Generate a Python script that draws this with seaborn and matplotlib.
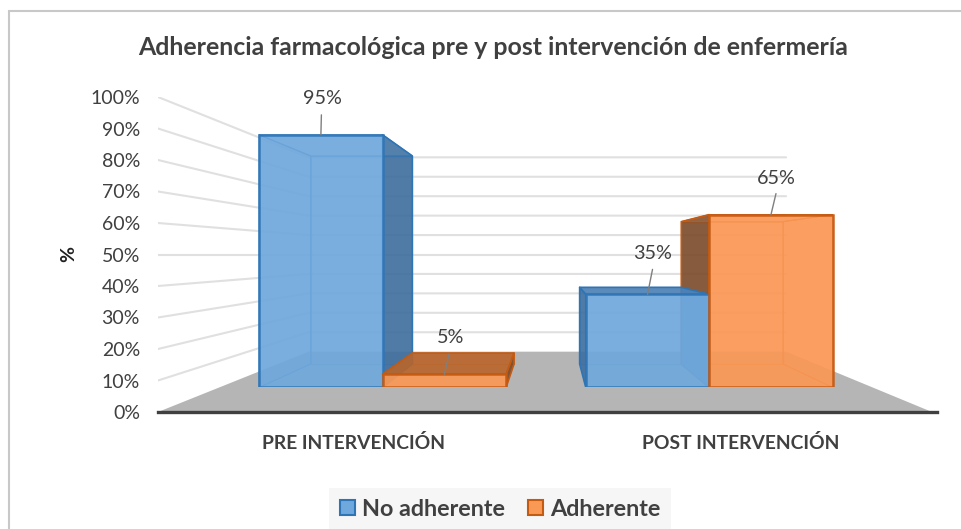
import numpy as np
import pandas as pd
import matplotlib
matplotlib.use("Agg")
import matplotlib.pyplot as plt
from matplotlib.colors import to_rgba
from matplotlib.patches import Polygon, Patch, Rectangle
import seaborn as sns

categories = ["PRE INTERVENCIÓN", "POST INTERVENCIÓN"]
no_adherente = [95, 35]
adherente = [5, 65]
series_names = ["No adherente", "Adherente"]
y_ticks = list(range(0, 101, 10))

W, H = 962, 529
sns.set_theme(style="white")
plt.rcParams["font.family"] = ["Lato", "DejaVu Sans"]
TXT = "#404040"
FILL = {"No adherente": "#6FA8DC", "Adherente": "#FA9855"}
EDGE = {"No adherente": "#2E75B6", "Adherente": "#C55A11"}
DARK = {"No adherente": "#3F6E9E", "Adherente": "#7A4A2A"}
TOPC = {"No adherente": "#4B80B5", "Adherente": "#B9652B"}

df = pd.DataFrame({
    "Momento": categories * 2,
    "Grupo": [series_names[0]] * 2 + [series_names[1]] * 2,
    "Porcentaje": no_adherente + adherente,
})

fig = plt.figure(figsize=(W / 100, H / 100), dpi=100, facecolor="white")

def axes_px(x0, x1, ytop, ybot, **kw):
    return fig.add_axes([x0 / W, 1 - ybot / H, (x1 - x0) / W, (ybot - ytop) / H], **kw)

# perspective: planes scale about the vanishing point
VX, VY = 551.0, 254.5
FX0, FX1, FY0, FY1 = 158.0, 932.0, 412.0, 97.0
BAR_FRONT, BAR_BACK, WALL = 0.844, 0.695, 0.617

def scaled(s):
    return (VX + (FX0 - VX) * s, VX + (FX1 - VX) * s, VY + (FY1 - VY) * s, VY + (FY0 - VY) * s)

# chart frame (runs off the right and bottom edges of the picture)
fig.add_artist(Rectangle((8.5 / W, -0.05), 1.05, 1.05 - 10.5 / H, transform=fig.transFigure,
                         fill=False, ec="#C8C8C8", lw=1.5))

ax_back = axes_px(FX0, FX1 + 5, FY1, FY0, facecolor="none", zorder=1)
ax_back.set_xlim(-0.5, 1.5 + 5 / 387)
ax_back.set_ylim(0, 100)
ax_bars = axes_px(*scaled(BAR_FRONT), facecolor="none", zorder=2)

sns.barplot(data=df, x="Momento", y="Porcentaje", hue="Grupo", hue_order=series_names,
            order=categories, palette=FILL, width=0.756, gap=0, legend=False, ax=ax_bars,
            saturation=1, alpha=0.92, linewidth=2, zorder=6)
ax_bars.set_xlim(-0.5, 1.5)
ax_bars.set_ylim(0, 100)
ax_bars.axis("off")

xc = -0.5 + (VX - FX0) / 387
vc = (FY0 - VY) / 3.15

def proj(x, v, r):
    return (xc + (x - xc) * r, vc + (v - vc) * r)

# floor and gridlines in the back axes
ax_back.add_patch(Polygon([proj(-0.5, 0, 1), proj(1.5, 0, 1), proj(1.5, 0, WALL), proj(-0.5, 0, WALL)],
                          closed=True, fc="#B5B5B5", ec="none", zorder=1))
for t in y_ticks[1:]:
    a = proj(-0.5, t, 1)
    b = proj(-0.5, t, WALL)
    c = proj(1.5, t, WALL)
    ax_back.plot([a[0], b[0], c[0]], [a[1], b[1], c[1]], color="#E0E0E0", lw=1.5, zorder=2,
                 solid_joinstyle="miter")

ax_back.set_yticks(y_ticks)
ax_back.set_yticklabels([f"{t}%" for t in y_ticks], fontsize=14, color=TXT)
ax_back.set_xticks([0.006, 1.006])
ax_back.set_xticklabels(categories, fontsize=13.9, fontweight="bold", color=TXT)
ax_back.tick_params(axis="both", length=0)
ax_back.tick_params(axis="y", pad=13)
ax_back.tick_params(axis="x", pad=15.5)
for side_name in ["top", "left", "right"]:
    ax_back.spines[side_name].set_visible(False)
ax_back.spines["bottom"].set_color("#404040")
ax_back.spines["bottom"].set_linewidth(2.4)
ax_back.set_ylabel("%", fontsize=14, fontweight="bold", color="#202020", labelpad=0)
ax_back.yaxis.set_label_coords((77 - FX0) / (FX1 + 5 - FX0), 0.5)

R = BAR_BACK / BAR_FRONT

def faces(bar):
    x0, x1 = bar.get_x(), bar.get_x() + bar.get_width()
    v = bar.get_height()
    f = dict(bl=(x0, 0), br=(x1, 0), tr=(x1, v), tl=(x0, v))
    b = {k: proj(p[0], p[1], R) for k, p in f.items()}
    return f, b

def side(bar, name, z):
    f, b = faces(bar)
    grp = bar._grp
    k0, k1 = {"left": ("tl", "bl"), "right": ("tr", "br"), "top": ("tl", "tr")}[name]
    pts = [f[k0], b[k0], b[k1], f[k1]]
    outer = {"left": b["tl"][0] < f["tl"][0], "right": b["tr"][0] > f["tr"][0],
             "top": f["tl"][1] < vc}[name]
    if outer:
        fc, al = (TOPC if name == "top" else DARK)[grp], 0.9
    elif name == "right" and grp == series_names[0]:
        # inner face standing against the neighbouring bar
        fc, al = "#6090C0", 0.95
    else:
        fc, al = FILL[grp], 0.10
    ax_bars.add_patch(Polygon(pts, closed=True, fc=to_rgba(fc, al),
                              ec=EDGE[grp], lw=1.2 if outer else 0.8, zorder=z, joinstyle="round"))

def back(bar, z):
    f, b = faces(bar)
    ax_bars.add_patch(Polygon([b["bl"], b["br"], b["tr"], b["tl"]], closed=True,
                              fc=to_rgba(FILL[bar._grp], 0.10),
                              ec=to_rgba(EDGE[bar._grp], 0.5), lw=0.8, zorder=z))

cont0, cont1 = ax_bars.containers[0], ax_bars.containers[1]
for name, cont in zip(series_names, (cont0, cont1)):
    for bar in cont:
        bar._grp = name
        bar.set_edgecolor(EDGE[name])
        bar.set_linewidth(1.8)

for i in range(len(categories)):
    a, b_ = cont0[i], cont1[i]
    z = 3.0
    back(b_, z); z += 0.01
    side(b_, "left", z); z += 0.01
    back(a, z); z += 0.01
    for n in ("left", "right", "top"):
        side(a, n, z); z += 0.01
    a.set_zorder(z); z += 0.01
    for n in ("right", "top"):
        side(b_, n, z); z += 0.01
    b_.set_zorder(z); z += 0.01

# data labels with leader lines
leader = [[(0.5, 20), (5, 25)], [(4.7, 20), (5, 21)]]
label = [[(1.5, 36), (5, 40.5)], [(6.5, 37), (5.5, 36)]]
for s, cont in enumerate((cont0, cont1)):
    for i, bar in enumerate(cont):
        cx = bar.get_x() + bar.get_width() / 2
        v = bar.get_height()
        ax_bars.annotate("", xy=(cx, v), xytext=leader[s][i], textcoords="offset pixels",
                         arrowprops=dict(arrowstyle="-", color="#7F7F7F", lw=1, shrinkA=0, shrinkB=0),
                         zorder=20)
        ax_bars.annotate(f"{v:.0f}%", xy=(cx, v), xytext=label[s][i], textcoords="offset pixels",
                         ha="center", va="center", fontsize=14.2, color=TXT, zorder=21)

fig.text(493.5 / W, 1 - 47.5 / H, "Adherencia farmacológica pre y post intervención de enfermería",
         ha="center", va="center", fontsize=17.9, fontweight="bold", color=TXT)

handles = [Patch(fc=FILL[n], ec=EDGE[n], lw=1.5) for n in series_names]
leg = fig.legend(handles, series_names, loc="center", bbox_to_anchor=(500 / W, 1 - 509 / H),
                 ncol=2, frameon=True, facecolor="#F6F6F6", edgecolor="none", framealpha=1,
                 fancybox=False, handlelength=0.64, handleheight=0.64, handletextpad=0.3,
                 columnspacing=1.0, prop={"size": 16.8, "weight": "bold"}, labelcolor=TXT,
                 borderpad=0.45)

fig.savefig("out.png", dpi=100)
